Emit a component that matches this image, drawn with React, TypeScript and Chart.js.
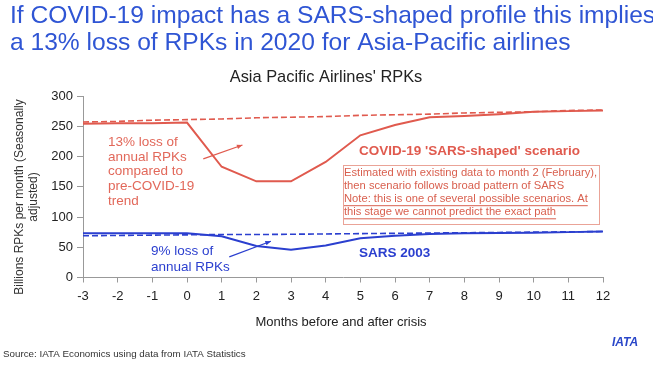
import React, { useEffect, useRef } from "react";
import { Chart, registerables } from "chart.js";

Chart.register(...registerables);

const months = [-3, -2, -1, 0, 1, 2, 3, 4, 5, 6, 7, 8, 9, 10, 11, 12];
const covidScenario = [254, 255, 255, 256, 183, 159, 159, 191, 235, 252, 265, 267, 270, 274, 275, 276];
const covidTrend = [257, 258, 260, 261, 262, 264, 265, 266, 268, 269, 270, 272, 273, 274, 276, 277];
const sars2003 = [73, 73, 73, 73, 68, 52, 46, 53, 65, 69, 72, 73, 73.5, 74, 75, 76];
const sarsTrend = [69, 69.5, 70, 70.5, 71, 71, 71.5, 72, 72.5, 73, 73.5, 74, 74.5, 75, 75.5, 76];
const yTicks = [0, 50, 100, 150, 200, 250, 300];

const RED = "#e05a4e";
const BLUE = "#2b3fcf";
const TITLE_BLUE = "#2f55d4";
const FONT = "'Liberation Sans', Arial, sans-serif";

const overlay = {
  id: "overlay",
  afterDraw(chart: any) {
    const ctx = chart.ctx as CanvasRenderingContext2D;
    const xs = chart.scales.x;
    const ys = chart.scales.y;
    const px = (v: number) => xs.getPixelForValue(v);
    const py = (v: number) => ys.getPixelForValue(v);
    ctx.save();
    ctx.textBaseline = "middle";

    // Main title
    ctx.fillStyle = TITLE_BLUE;
    ctx.font = `24.6px ${FONT}`;
    ctx.textAlign = "left";
    ctx.fillText("If COVID-19 impact has a SARS-shaped profile this implies", 10, 16);
    ctx.fillText("a 13% loss of RPKs in 2020 for Asia-Pacific airlines", 10, 43);

    // Chart title
    ctx.fillStyle = "#222";
    ctx.font = `16.4px ${FONT}`;
    ctx.textAlign = "center";
    ctx.fillText("Asia Pacific Airlines' RPKs", 326, 77);

    // Y axis title
    ctx.save();
    ctx.translate(20, 197);
    ctx.rotate(-Math.PI / 2);
    ctx.fillStyle = "#333";
    ctx.font = `12px ${FONT}`;
    ctx.textAlign = "center";
    ctx.fillText("Billions RPKs per month (Seasonally", 0, 0);
    ctx.fillText("adjusted)", 0, 14);
    ctx.restore();

    // X axis title
    ctx.fillStyle = "#222";
    ctx.font = `13px ${FONT}`;
    ctx.textAlign = "center";
    ctx.fillText("Months before and after crisis", 341, 322);

    // Source
    ctx.fillStyle = "#333";
    ctx.font = `9.8px ${FONT}`;
    ctx.textAlign = "left";
    ctx.fillText("Source: IATA Economics using data from IATA Statistics", 3, 354);

    // IATA mark
    ctx.fillStyle = "#2a47c9";
    ctx.font = `italic bold 12px ${FONT}`;
    ctx.textAlign = "left";
    ctx.fillText("IATA", 612, 343);

    const arrow = (x1: number, y1: number, x2: number, y2: number, color: string) => {
      const a = px(x1), b = py(y1), c = px(x2), d = py(y2);
      ctx.strokeStyle = color;
      ctx.fillStyle = color;
      ctx.lineWidth = 1.2;
      ctx.beginPath();
      ctx.moveTo(a, b);
      ctx.lineTo(c, d);
      ctx.stroke();
      const ang = Math.atan2(d - b, c - a);
      const L = 6;
      ctx.beginPath();
      ctx.moveTo(c, d);
      ctx.lineTo(c - L * Math.cos(ang - 0.4), d - L * Math.sin(ang - 0.4));
      ctx.lineTo(c - L * Math.cos(ang + 0.4), d - L * Math.sin(ang + 0.4));
      ctx.closePath();
      ctx.fill();
    };

    // Red annotation
    ctx.fillStyle = "#e2685a";
    ctx.font = `13.5px ${FONT}`;
    ctx.textAlign = "left";
    const redLines = ["13% loss of", "annual RPKs", "compared to", "pre-COVID-19", "trend"];
    redLines.forEach((t, i) => ctx.fillText(t, 108, 142 + i * 14.8));
    arrow(0.47, 196, 1.6, 219, RED);

    // Blue annotation
    ctx.fillStyle = BLUE;
    ctx.font = `13.5px ${FONT}`;
    ctx.fillText("9% loss of", 151, 251);
    ctx.fillText("annual RPKs", 151, 267);
    arrow(1.22, 34, 2.42, 60, BLUE);

    // Series labels
    ctx.fillStyle = RED;
    ctx.font = `bold 13.5px ${FONT}`;
    ctx.fillText("COVID-19 'SARS-shaped' scenario", 359, 151);
    ctx.fillStyle = BLUE;
    ctx.fillText("SARS 2003", 359, 253);

    // Box
    ctx.strokeStyle = "#eaa397";
    ctx.lineWidth = 1;
    ctx.strokeRect(343.5, 165.5, 256, 59);
    ctx.fillStyle = "#d9604f";
    ctx.font = `11.2px ${FONT}`;
    const boxLines = [
      "Estimated with existing data to month 2 (February),",
      "then scenario follows broad pattern of SARS",
      "Note: this is one of several possible scenarios. At",
      "this stage we cannot predict the exact path",
    ];
    boxLines.forEach((t, i) => {
      const y = 173 + i * 13.1;
      ctx.fillText(t, 344, y);
      if (i >= 2) {
        const w = ctx.measureText(t).width;
        ctx.strokeStyle = "#d9604f";
        ctx.beginPath();
        ctx.moveTo(344, y + 6.5);
        ctx.lineTo(344 + w, y + 6.5);
        ctx.stroke();
      }
    });

    ctx.restore();
  },
};

export default function App() {
  const ref = useRef<HTMLCanvasElement | null>(null);
  useEffect(() => {
    if (!ref.current) return;
    const chart = new Chart(ref.current, {
      type: "line",
      data: {
        labels: months,
        datasets: [
          { data: covidTrend, borderColor: RED, borderWidth: 1.6, borderDash: [6, 3], pointRadius: 0, tension: 0 },
          { data: covidScenario, borderColor: RED, borderWidth: 2, pointRadius: 0, tension: 0 },
          { data: sarsTrend, borderColor: BLUE, borderWidth: 1.6, borderDash: [6, 3], pointRadius: 0, tension: 0 },
          { data: sars2003, borderColor: BLUE, borderWidth: 2, pointRadius: 0, tension: 0 },
        ],
      },
      options: {
        responsive: false,
        animation: false,
        layout: { padding: { top: 96, right: 50, bottom: 0, left: 0 } },
        plugins: { legend: { display: false }, tooltip: { enabled: false }, title: { display: false } },
        scales: {
          x: {
            type: "linear",
            min: -3,
            max: 12,
            afterFit: (s: any) => { s.height = 94.5; },
            afterBuildTicks: (s: any) => { s.ticks = months.map((v) => ({ value: v })); },
            grid: { display: true, drawOnChartArea: false, drawTicks: true, tickLength: 5, color: "#999" },
            border: { color: "#999", width: 1 },
            ticks: { color: "#222", font: { size: 13, family: FONT }, padding: 6, maxRotation: 0, autoSkip: false },
          },
          y: {
            min: 0,
            max: 300,
            afterFit: (s: any) => { s.width = 83; },
            afterBuildTicks: (s: any) => { s.ticks = yTicks.map((v) => ({ value: v })); },
            grid: { display: true, drawOnChartArea: false, drawTicks: true, tickLength: 6, color: "#999" },
            border: { color: "#999", width: 1 },
            ticks: { color: "#222", font: { size: 13, family: FONT }, padding: 4 },
          },
        },
      },
      plugins: [overlay],
    });
    return () => chart.destroy();
  }, []);
  return (
    <div style={{ position: "fixed", left: 0, top: 0, width: 653, height: 372, background: "#fff" }}>
      <canvas ref={ref} width={653} height={372} style={{ width: 653, height: 372, display: "block" }} />
    </div>
  );
}
